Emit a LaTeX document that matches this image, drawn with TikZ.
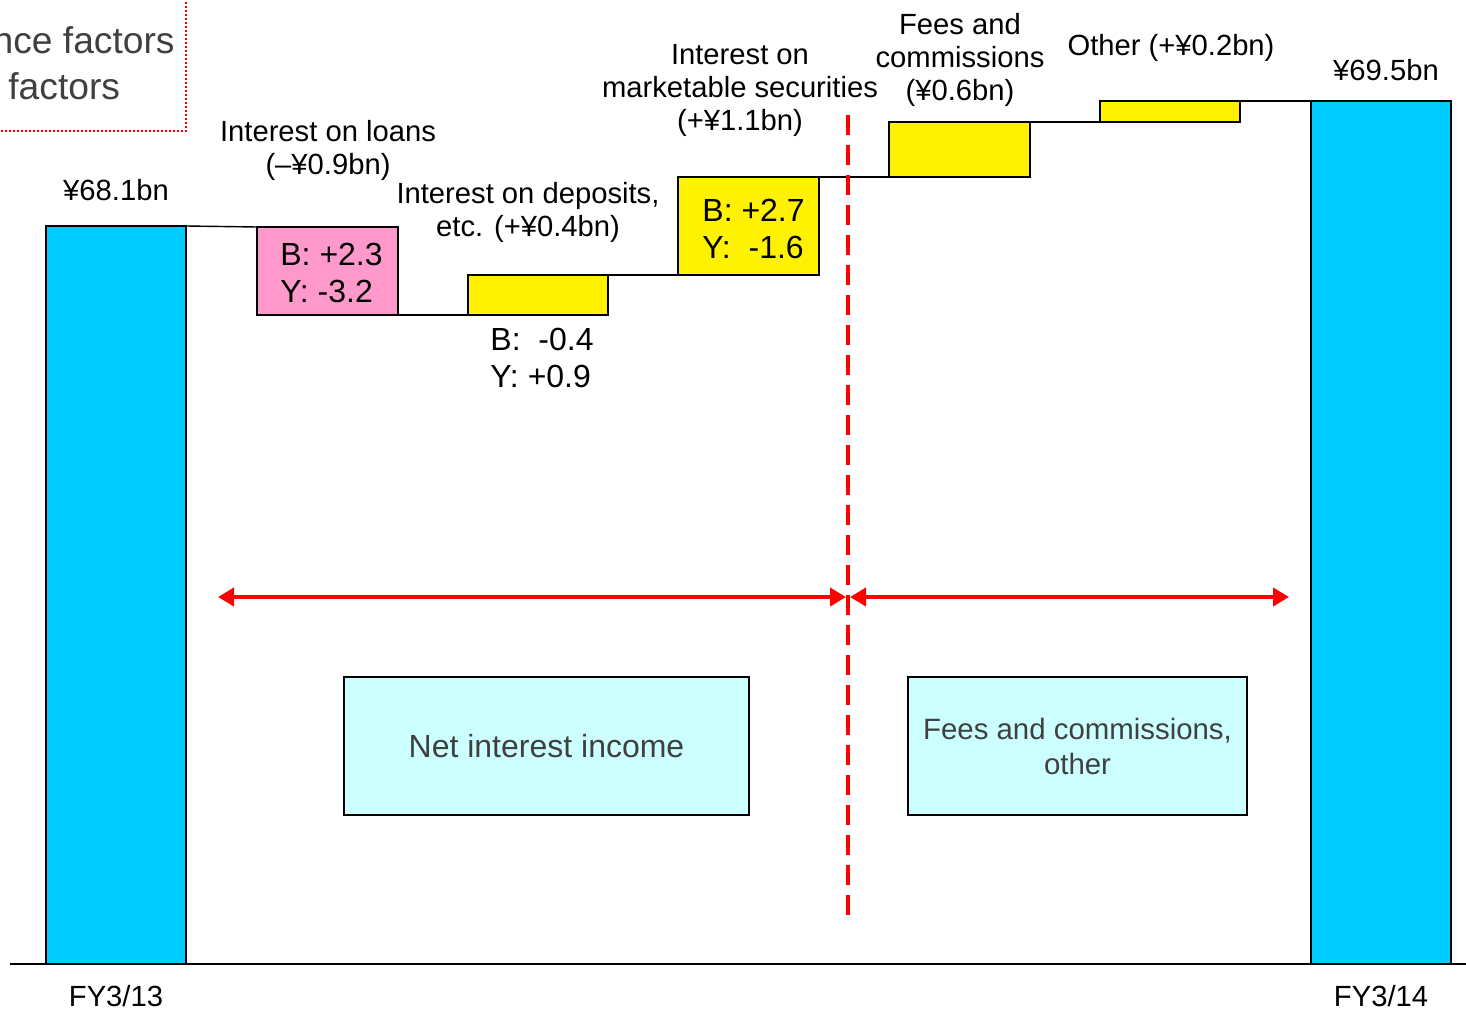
\documentclass[tikz,border=0pt]{standalone}
\usepackage{fontspec}
\setmainfont{Liberation Sans}
\usetikzlibrary{fit,arrows.meta}
\definecolor{barcyan}{RGB}{0,204,255}
\definecolor{pinkfill}{RGB}{255,153,204}
\definecolor{lightcyan}{RGB}{204,255,255}
\definecolor{darkgray}{RGB}{64,64,64}
\tikzset{
  blk/.style={draw=black, line width=1pt, inner sep=0pt, outer sep=0pt},
  bar/.style={blk, fill=barcyan},
  up/.style={blk, fill=yellow},
  down/.style={blk, fill=pinkfill},
  group/.style={draw=black, line width=0.8pt, fill=lightcyan, inner sep=0pt, outer sep=0pt},
  link/.style={draw=black, line width=0.7pt},
  lbl/.style={font=\fontsize{14.6}{16.5}\selectfont, align=center, inner sep=0pt},
  boxlbl/.style={font=\fontsize{16}{18.5}\selectfont, align=left, inner sep=0pt},
  grouplbl/.style={font=\fontsize{16}{17.5}\selectfont, text=darkgray, align=center, inner sep=0pt},
  legend/.style={font=\fontsize{18.6}{22}\selectfont, text=darkgray, inner sep=0pt},
  span/.style={draw=red, line width=2pt, {Triangle[length=8pt,width=9pt]}-{Triangle[length=8pt,width=9pt]}},
}
\begin{document}
\begin{tikzpicture}[x=0.5pt, y=-0.5pt]
\clip (0,0) rectangle (1466,1011);
\fill[white] (0,0) rectangle (1466,1011);

% legend frame, partly outside the page
\draw[red, line width=1pt, dash pattern=on 1pt off 1pt] (-20,-20) rectangle (186,131);
\node[legend, anchor=base east] (f1) at (175,54) {nce factors};
\node[legend, anchor=base west] (f2) at (8,100) {factors};

% baseline
\coordinate (b0) at (10,964);
\coordinate (b1) at (1466,964);
\draw[black, line width=0.6pt] (b0) -- (b1);

% start and end bars
\node[bar, fit={(46,226)(186,964)}] (start) {};
\node[bar, fit={(1311,101)(1451,964)}] (finish) {};

% step boxes
\node[down, fit={(257,227)(398,315)}] (loans) {};
\node[up, fit={(468,275)(608,315)}] (deps) {};
\node[up, fit={(678,177)(819,275)}] (secs) {};
\node[up, fit={(889,122)(1030,177)}] (fees) {};
\node[up, fit={(1100,101)(1240,122)}] (other) {};

% step links
\draw[link] (start.north east) -- (loans.north west);
\draw[link] (loans.south east) -- (deps.south west);
\draw[link] (deps.north east) -- (secs.south west);
\draw[link] (secs.north east) -- (fees.south west);
\draw[link] (fees.north east) -- (other.south west);
\draw[link] (other.north east) -- (finish.north west);

% divider
\coordinate (d0) at (848,115);
\coordinate (d1) at (848,920);
\draw[red, line width=2pt, dash pattern=on 10pt off 5pt] (d0) -- (d1);

% spans
\coordinate (sL) at (218,597);
\coordinate (sM1) at (846,597);
\coordinate (sM2) at (850,597);
\coordinate (sR) at (1289,597);
\draw[span] (sL) -- (sM1);
\draw[span] (sM2) -- (sR);

% group boxes
\node[group, fit={(344,677)(749,815)}] (nii) {};
\node[grouplbl] at (nii.center) {Net interest income};
\node[group, fit={(908,677)(1247,815)}] (fco) {};
\node[grouplbl, font=\fontsize{14.7}{17.5}\selectfont] at (fco.center) {Fees and commissions,\\other};

% labels
\node[lbl] (v0) at (116,190) {¥68.1bn};
\node[lbl] (v1) at (1386,70) {¥69.5bn};
\node[lbl] at (328,150) {Interest on loans\\(–¥0.9bn)};
\node[lbl] at (528,212) {Interest on deposits,\\etc. (+¥0.4bn)};
\node[lbl] at (740,90) {Interest on\\marketable securities\\(+¥1.1bn)};
\node[lbl] at (960,60) {Fees and\\commissions\\(¥0.6bn)};
\node[lbl] at (1171,48) {Other (+¥0.2bn)};

\node[boxlbl, anchor=west] at (280,273) {B: +2.3\\Y: -3.2};
\node[boxlbl, anchor=west] at (490,358) {B:\ \ -0.4\\Y: +0.9};
\node[boxlbl, anchor=west] at (702,229) {B: +2.7\\Y:\ \ -1.6};

\node[lbl] at (116,996) {FY3/13};
\node[lbl] at (1381,996) {FY3/14};
\end{tikzpicture}
\end{document}
